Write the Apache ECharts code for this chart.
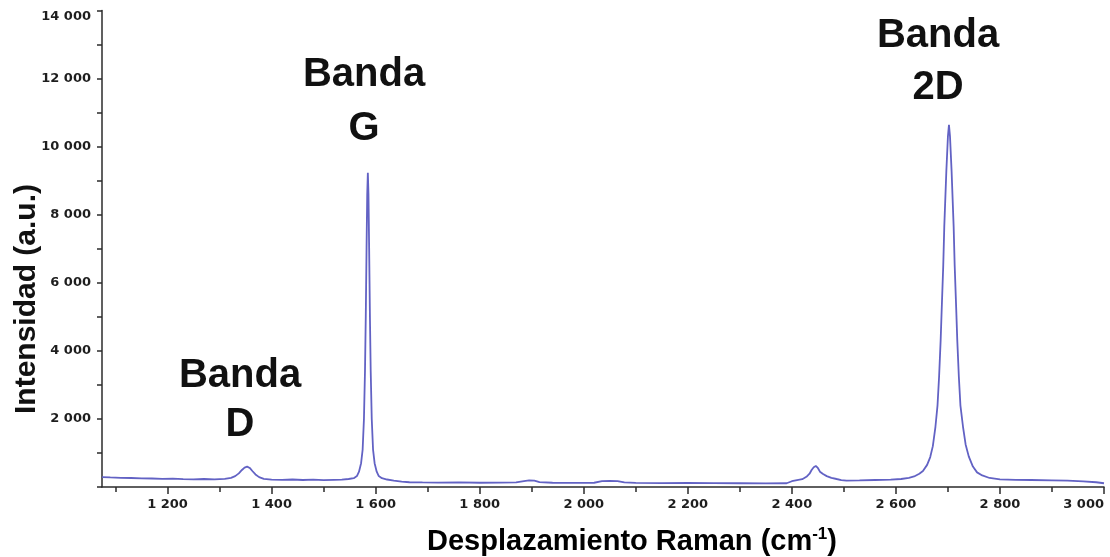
<!DOCTYPE html>
<html>
<head>
<meta charset="utf-8">
<script src="https://cdn.jsdelivr.net/npm/echarts@6/dist/echarts.min.js"></script>
<style>
  html, body { margin: 0; padding: 0; background: #ffffff; }
  #chart { width: 1110px; height: 557px; }
</style>
</head>
<body>
<div id="chart"></div>
<script>
// Raman spectrum of graphene: D, G and 2D bands
const ramanShift = [
  1074, 1090, 1110, 1130, 1150, 1170, 1190, 1210, 1230, 1250, 1270, 1290, 1310, 1322,
  1330, 1337, 1343, 1348, 1353, 1358, 1363, 1369, 1376, 1385, 1400,
  1420, 1440, 1460, 1480, 1500, 1520, 1535, 1548,
  1558, 1564, 1568, 1572, 1575, 1577.5, 1579.5, 1581, 1582.5, 1583.8, 1585,
  1586.2, 1587.5, 1589, 1590.5, 1592.5, 1595, 1598, 1602, 1606, 1612, 1622, 1635,
  1650, 1665, 1690, 1720, 1760, 1800, 1840, 1870, 1885, 1895, 1905, 1915, 1940,
  1980, 2020, 2035, 2050, 2065, 2078, 2100, 2150, 2200, 2250, 2300, 2350, 2390,
  2400, 2410, 2420, 2428, 2434, 2438, 2442, 2446, 2450, 2454, 2460, 2467, 2476,
  2486, 2495, 2505, 2530, 2560, 2590, 2610, 2625, 2635, 2645, 2652, 2660, 2666,
  2671, 2676, 2680, 2683, 2686, 2688, 2691, 2693, 2697, 2700, 2702, 2704, 2707,
  2711, 2713, 2716, 2718, 2721, 2724, 2729, 2734, 2740, 2748, 2756, 2766, 2780,
  2800, 2830, 2860, 2900, 2930, 2960, 2985, 3000
];
const intensity = [
  290, 280, 270, 265, 255, 250, 240, 245, 230, 225, 235, 225, 240, 270,
  320, 400, 500, 570, 600, 560, 470, 370, 290, 240, 215,
  210, 220, 205, 215, 200, 210, 215, 235,
  260, 320, 450, 700, 1100, 2000, 3400, 5000, 7000, 8600, 9230,
  8600, 7000, 5000, 3400, 2000, 1100, 700, 450, 320, 260, 220, 190,
  160, 140, 135, 130, 135, 125, 130, 135, 175, 195, 190, 145, 125,
  120, 125, 170, 180, 175, 135, 120, 115, 118, 112, 110, 108, 110,
  170, 205, 230, 300, 390, 500, 580, 617, 560, 450, 380, 320, 270,
  235, 205, 190, 195, 205, 215, 235, 270, 310, 390, 470, 650, 880,
  1200, 1770, 2400, 3240, 4300, 5200, 6500, 7650, 9300, 10300, 10640, 10300, 9300,
  7650, 6500, 5200, 4300, 3240, 2400, 1770, 1250, 900, 600, 430, 340, 265,
  225, 210, 205, 195, 185, 165, 140, 110
];

// Axis ticks and labels
const xLabelValues = [1200, 1400, 1600, 1800, 2000, 2200, 2400, 2600, 2800, 3000];
const xMinorValues = [1100, 1300, 1500, 1700, 1900, 2100, 2300, 2500, 2700, 2900];
const xRange = [1074, 3000];
const yRange = [0, 14000];
const yStep = 2000;

// Band annotations
const bandNames = ['Banda\nD', 'Banda\nG', 'Banda\n2D'];

const numFont = '"DejaVu Sans", Verdana, sans-serif';
const titleFont = '"Liberation Sans", Arial, Helvetica, sans-serif';

function spaced(v) {
  if (v === 0) return '';
  const th = Math.floor(v / 1000);
  const rest = v % 1000;
  return th > 0 ? th + ' ' + String(rest).padStart(3, '0') : String(v);
}

const chart = echarts.init(document.getElementById('chart'), null, { renderer: 'canvas' });

const axisLineStyle = { color: '#2b2b2b', width: 1.5 };

chart.setOption({
  animation: false,
  backgroundColor: '#ffffff',
  grid: { left: 102, right: 6, top: 10.5, bottom: 70, containLabel: false },
  xAxis: [
    {
      type: 'value',
      min: xRange[0],
      max: xRange[1],
      axisLine: { show: true, lineStyle: axisLineStyle },
      axisTick: { show: true, customValues: xLabelValues, length: 7, lineStyle: axisLineStyle },
      axisLabel: {
        show: true,
        customValues: xLabelValues,
        formatter: spaced,
        margin: 11,
        fontFamily: numFont,
        fontWeight: 'bold',
        fontSize: 13,
        color: '#1e1e1e',
        alignMaxLabel: 'right'
      },
      splitLine: { show: false }
    },
    {
      type: 'value',
      position: 'bottom',
      min: xRange[0],
      max: xRange[1],
      axisLine: { show: false },
      axisTick: { show: true, customValues: xMinorValues, length: 5, lineStyle: axisLineStyle },
      axisLabel: { show: false },
      splitLine: { show: false }
    }
  ],
  yAxis: {
    type: 'value',
    min: yRange[0],
    max: yRange[1],
    interval: yStep,
    axisLine: { show: true, lineStyle: axisLineStyle },
    axisTick: { show: true, length: 5, lineStyle: axisLineStyle },
    minorTick: { show: true, splitNumber: 2, length: 5, lineStyle: axisLineStyle },
    axisLabel: {
      formatter: spaced,
      margin: 11,
      fontFamily: numFont,
      fontWeight: 'bold',
      fontSize: 13,
      color: '#1e1e1e',
      verticalAlignMaxLabel: 'top'
    },
    splitLine: { show: false }
  },
  series: [
    {
      type: 'line',
      xAxisIndex: 0,
      data: ramanShift.map((x, i) => [x, intensity[i]]),
      showSymbol: false,
      smooth: false,
      lineStyle: { color: '#6262c4', width: 1.8 },
      z: 3
    }
  ],
  graphic: [
    {
      type: 'text',
      x: 27, y: 299,
      rotation: Math.PI / 2,
      style: {
        text: 'Intensidad (a.u.)',
        fontFamily: titleFont, fontWeight: 'bold', fontSize: 30,
        fill: '#111111', align: 'center', verticalAlign: 'middle'
      }
    },
    {
      type: 'text',
      x: 632, y: 542,
      style: {
        text: '{m|Desplazamiento Raman (cm}{s|-1}{m|)}',
        align: 'center', verticalAlign: 'middle',
        rich: {
          m: { fontFamily: titleFont, fontWeight: 'bold', fontSize: 29, color: '#111111', lineHeight: 32 },
          s: { fontFamily: titleFont, fontWeight: 'bold', fontSize: 17, color: '#111111', verticalAlign: 'top', lineHeight: 32 }
        }
      }
    },
    {
      type: 'text', x: 240, y: 400,
      style: { text: bandNames[0], fontFamily: titleFont, fontWeight: 'bold', fontSize: 40, lineHeight: 49,
               fill: '#111111', align: 'center', verticalAlign: 'middle' }
    },
    {
      type: 'text', x: 364, y: 102,
      style: { text: bandNames[1], fontFamily: titleFont, fontWeight: 'bold', fontSize: 40, lineHeight: 54,
               fill: '#111111', align: 'center', verticalAlign: 'middle' }
    },
    {
      type: 'text', x: 938, y: 62,
      style: { text: bandNames[2], fontFamily: titleFont, fontWeight: 'bold', fontSize: 40, lineHeight: 52,
               fill: '#111111', align: 'center', verticalAlign: 'middle' }
    }
  ]
});
</script>
</body>
</html>
